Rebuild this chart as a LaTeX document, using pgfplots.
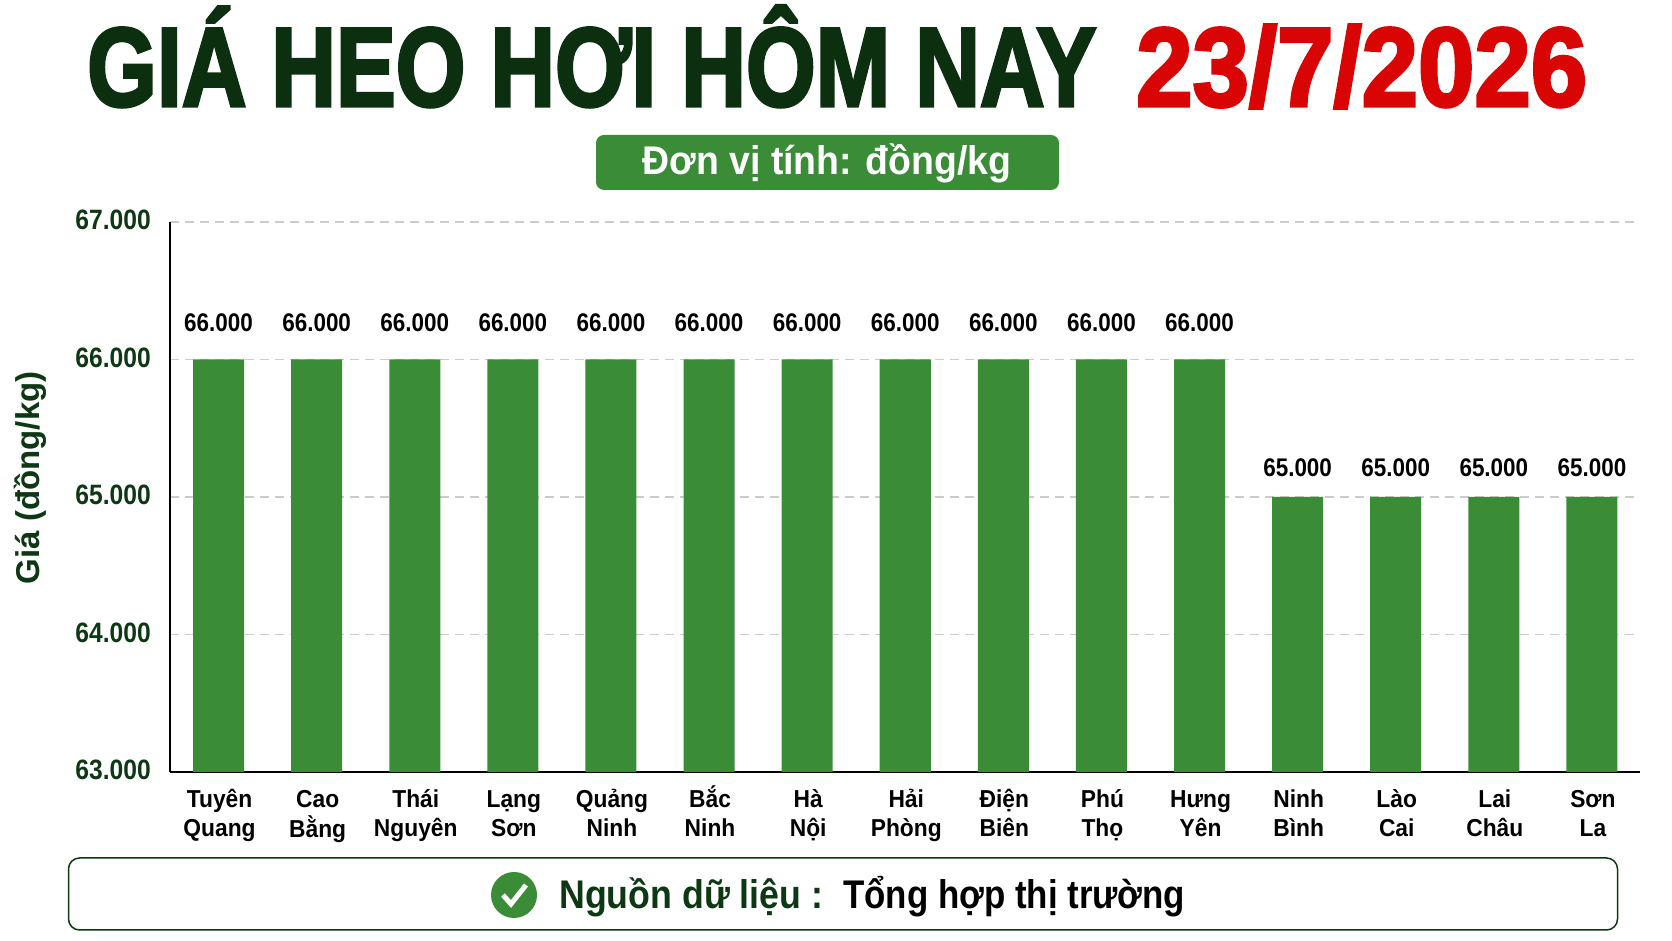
\documentclass[border=0pt]{standalone}
\usepackage{fontspec}
\setmainfont{Liberation Sans}[BoldFont={Liberation Sans Bold}]
\usepackage{pgfplots}
\usepackage{graphicx}
\pgfplotsset{compat=1.18}
\definecolor{dkgreen}{HTML}{0E3714}
\definecolor{titleg}{HTML}{0C2F10}
\definecolor{barg}{HTML}{3A8C37}
\definecolor{redd}{HTML}{D90404}
\newcommand{\cond}[1]{\scalebox{0.88}[1]{#1}}
\newcommand{\tl}[2]{\scalebox{0.93}[1]{\begin{tabular}{@{}c@{}}\vphantom{Ắ}#1\\#2\end{tabular}}}
\pgfplotstableread[col sep=comma]{
idx,price
0,66000
1,66000
2,66000
3,66000
4,66000
5,66000
6,66000
7,66000
8,66000
9,66000
10,66000
}\pricetableA
\pgfplotstableread[col sep=comma]{
idx,price
11,65000
12,65000
13,65000
14,65000
}\pricetableB
\begin{document}
\begin{tikzpicture}[x=1pt,y=1pt]
\useasboundingbox (0,0) rectangle (1672,941);
\begin{axis}[
  at={(170pt,169pt)},anchor=south west,
  scale only axis,width=1470pt,height=550pt,
  xmin=-0.495,xmax=14.49,ymin=63000,ymax=67000,
  axis x line=bottom,axis y line=left,
  axis line style={black,line width=1.8pt,-},
  major tick length=0pt,
  xtick={0,...,14},
  xticklabels={{\tl{Tuyên}{Quang}},{\tl{Cao}{Bằng}},{\tl{Thái}{Nguyên}},{\tl{Lạng}{Sơn}},{\tl{Quảng}{Ninh}},{\tl{Bắc}{Ninh}},{\tl{Hà}{Nội}},{\tl{Hải}{Phòng}},{\tl{Điện}{Biên}},{\tl{Phú}{Thọ}},{\tl{Hưng}{Yên}},{\tl{Ninh}{Bình}},{\tl{Lào}{Cai}},{\tl{Lai}{Châu}},{\tl{Sơn}{La}}},
  xticklabel style={font=\fontsize{24.5}{29}\selectfont\bfseries,text=black,inner sep=0pt,yshift=-13pt,xshift=1pt},
  ytick={63000,64000,65000,66000,67000},
  scaled y ticks=false,
  yticklabel={\cond{\pgfmathprintnumber{\tick}}},
  yticklabel style={font=\fontsize{28}{30}\selectfont\bfseries,text=dkgreen,inner sep=0pt,xshift=-19pt,yshift=2pt},
  /pgf/number format/.cd,1000 sep={.},assume math mode=true,fixed,
  /pgfplots/.cd,
  ymajorgrids,
  grid style={dash pattern=on 9pt off 6pt,gray!40,line width=1.2pt},
  ylabel={Giá (đồng/kg)},
  ylabel style={at={(axis description cs:-0.0952,0.535)},anchor=center,font=\fontsize{33}{36}\selectfont\bfseries,text=dkgreen},
  clip=false,
]
\addplot[ybar,bar width=51pt,fill=barg,draw=none,
  nodes near coords={\cond{\pgfmathprintnumber{\pgfplotspointmeta}}},
  every node near coord/.style={font=\fontsize{25.5}{28}\selectfont\bfseries,text=black,anchor=south,inner sep=0pt,yshift=28pt},
  point meta=explicit,
] table[x=idx,y=price,meta=price,col sep=comma] {\pricetableA};
\addplot[ybar,bar width=51pt,fill=barg,draw=none,
  nodes near coords={\cond{\pgfmathprintnumber{\pgfplotspointmeta}}},
  every node near coord/.style={font=\fontsize{25.5}{28}\selectfont\bfseries,text=black,anchor=south,inner sep=0pt,yshift=20pt},
  point meta=explicit,
] table[x=idx,y=price,meta=price,col sep=comma] {\pricetableB};
\end{axis}
% title
\node[anchor=base west,inner sep=0,text=titleg] at (87,835)
  {\resizebox{1009pt}{\height}{\fontsize{112}{112}\selectfont\bfseries\addfontfeature{FakeBold=3}GIÁ HEO HƠI HÔM NAY}};
\node[anchor=base west,inner sep=0,text=redd] at (1136,835)
  {\resizebox{451pt}{\height}{\fontsize{112}{112}\selectfont\bfseries\addfontfeature{FakeBold=3}23/7/2026}};
% unit pill
\fill[barg,rounded corners=8pt] (596,751) rectangle (1059,806);
\node[anchor=center,inner sep=0,text=white] at (827,777.5)
  {\resizebox{369pt}{\height}{\fontsize{40}{42}\selectfont\bfseries Đơn vị tính: đồng/kg}};
% source box
\draw[dkgreen,line width=1.5pt,rounded corners=11pt] (68.5,11) rectangle (1617.5,83);
\fill[barg] (514,46) circle (23);
\draw[white,line width=5pt] (503,46) -- (511,37) -- (526,56);
\node[anchor=base west,inner sep=0,text=dkgreen] at (559,32)
  {\resizebox{264pt}{\height}{\fontsize{40}{42}\selectfont\bfseries Nguồn dữ liệu :}};
\node[anchor=base west,inner sep=0,text=black] at (843,32)
  {\resizebox{342pt}{\height}{\fontsize{40}{42}\selectfont\bfseries Tổng hợp thị trường}};
\end{tikzpicture}
\end{document}
